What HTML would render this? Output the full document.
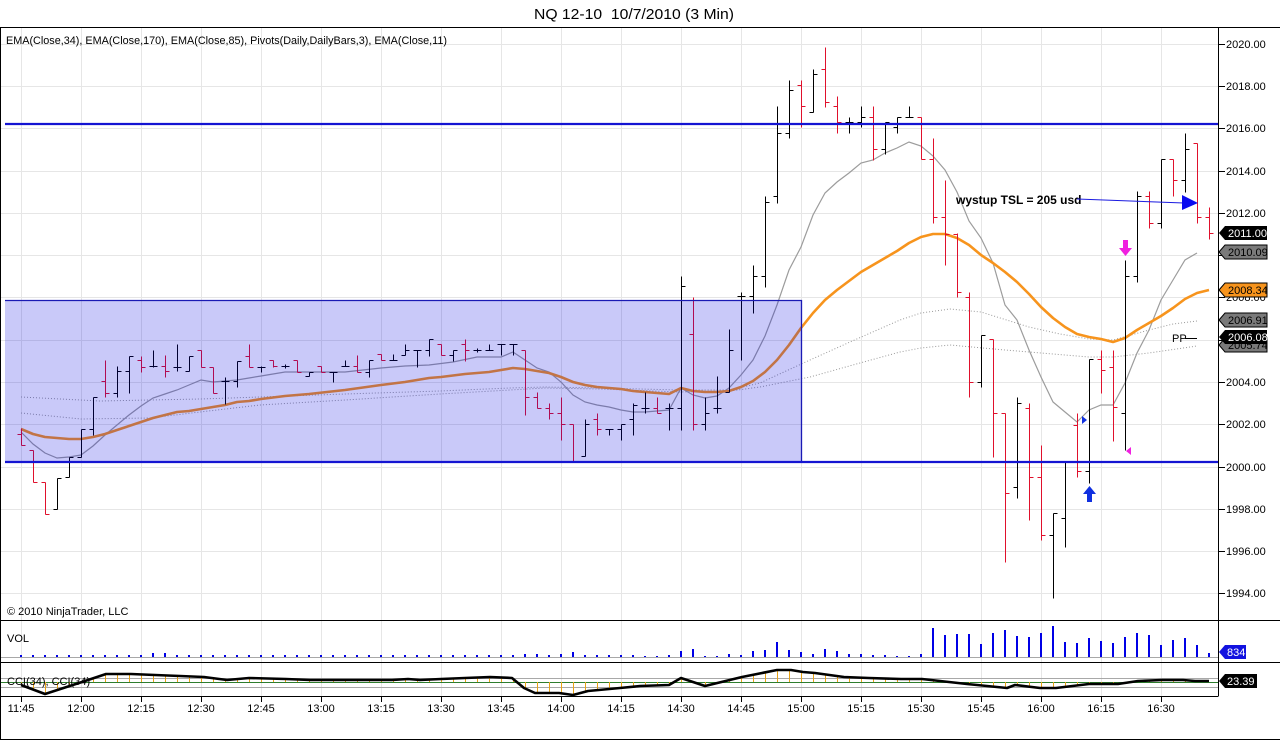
<!DOCTYPE html>
<html><head><meta charset="utf-8"><style>html,body{margin:0;padding:0;background:#fff;}svg{display:block;}</style></head>
<body>
<svg width="1280" height="740" viewBox="0 0 1280 740" xmlns="http://www.w3.org/2000/svg" font-family="'Liberation Sans', Arial, sans-serif">
<defs>
<clipPath id="mainclip"><rect x="1" y="28" width="1217" height="592"/></clipPath>
<clipPath id="cciclip"><polygon points="21,685 45,694 82,682 106,674 131,674 155,675 180,676 204,677 227,680 249,678 286,679 310,680 392,680 408,679 420,680 441,679 465,678 490,677 512,678 524,688 535,693 559,693 573,695 588,691 620,688 640,686 669,685 681,678 705,686 742,677 777,670 791,670 803,672 815,673 844,677 869,678 901,679 922,679 967,684 1007,688 1015,685 1040,688 1056,688 1089,684 1118,684 1138,681 1162,680 1183,680 1195,681 1209,681 1209,682 21,682"/></clipPath>
</defs>
<rect width="1280" height="740" fill="#fff"/>

<!-- grid -->
<g stroke="#e6e6e6" stroke-width="1" shape-rendering="crispEdges">
<path d="M21.5 28V696M81.5 28V696M141.5 28V696M201.5 28V696M261.5 28V696M321.5 28V696M381.5 28V696M441.5 28V696M501.5 28V696M561.5 28V696M621.5 28V696M681.5 28V696M741.5 28V696M801.5 28V696M861.5 28V696M921.5 28V696M981.5 28V696M1041.5 28V696M1101.5 28V696M1161.5 28V696"/>
<path d="M1 44.5H1218M1 86.5H1218M1 128.5H1218M1 171.5H1218M1 213.5H1218M1 255.5H1218M1 297.5H1218M1 340.5H1218M1 382.5H1218M1 424.5H1218M1 467.5H1218M1 509.5H1218M1 551.5H1218M1 593.5H1218"/>
</g>

<g clip-path="url(#mainclip)">
<!-- EMA dotted -->
<polyline fill="none" stroke="#9a9a9a" stroke-width="1" stroke-dasharray="1,2" points="21,397 100,401 200,399 260,397 345,394 440,391 510,388 545,387 600,388 680,390 730,390 760,383 810,360 850,342 900,320 921,313 950,309 981,312 1029,327 1060,334 1089,339 1113,340 1149,330 1173,324 1197,321"/>
<polyline fill="none" stroke="#9a9a9a" stroke-width="1" stroke-dasharray="1,2" points="21,413 81,419 150,418 200,412 260,405 345,400 440,394 510,390 545,388 600,389 680,392 730,391 760,387 810,377 860,363 900,352 921,348 950,345 1005,350 1089,357 1113,357 1149,353 1197,346"/>
<!-- EMA 11 -->
<polyline fill="none" stroke="#9c9c9c" stroke-width="1.2" points="21,432 33,444 45,453 57,458 69,457 81,455 93,446 105,435 117,425 129,415 141,406 153,398 165,394 177,390 189,385 201,380 213,382 225,381 237,380 249,378 261,376 285,372 309,372 345,372 381,368 405,366 429,365 453,362 477,357 501,357 513,352 525,360 537,368 549,372 561,382 573,395 585,402 597,405 609,407 621,410 633,412 645,412 657,411 669,410 681,388 693,395 705,398 717,396 729,388 741,375 753,360 765,336 777,305 789,270 801,247 813,215 825,193 837,182 849,173 861,163 873,160 885,153 897,148 909,142 921,146 933,156 945,170 957,192 969,221 981,238 993,263 1005,305 1017,320 1029,350 1041,377 1053,402 1065,412 1077,422 1089,410 1101,405 1113,405 1125,383 1137,353 1149,330 1161,300 1173,280 1185,260 1197,253"/>
<!-- EMA 34 -->
<polyline fill="none" stroke="#f7941d" stroke-width="2.6" stroke-linejoin="round" points="21,429 33,434 45,437 57,438 69,439 81,439 93,437 105,434 117,430 129,426 141,422 153,418 165,415 177,412 189,411 201,409 213,407 225,405 237,402 249,401 261,399 285,396 309,394 345,390 381,385 405,382 429,378 441,377 465,374 489,372 513,368 525,369 537,371 549,373 561,377 573,382 585,385 597,387 609,388 621,389 633,391 645,392 657,393 669,394 681,388 693,391 705,392 717,392 729,391 741,387 753,381 765,372 777,360 789,345 801,328 813,313 825,300 837,290 849,281 861,272 873,265 885,258 897,251 909,243 921,237 933,234 945,234 957,238 969,245 981,255 993,263 1005,272 1017,282 1029,294 1041,307 1053,318 1065,327 1077,334 1089,337 1101,339 1113,342 1125,338 1137,330 1149,323 1161,316 1173,308 1185,299 1197,293 1209,290"/>

<!-- bars -->
<g transform="translate(0.5,0.5)" fill="none" stroke-width="1" shape-rendering="crispEdges">
<path stroke="#e0102c" d="M21 428V445M17 434H21M21 445H25M33 450V482M29 450H33M33 482H37M45 482V514M41 482H45M45 514H49M105 360V397M101 381H105M105 393H109M141 356V372M137 360H141M141 367H145M165 355V377M161 366H165M165 371H169M201 350V367M197 350H201M201 367H205M213 367V393M209 367H213M213 393H217M249 344V367M245 356H249M249 367H253M273 360V367M269 360H273M273 366H277M297 360V372M293 360H297M297 372H301M321 366V372M317 366H321M321 372H325M357 355V372M353 366H357M357 372H361M381 354V360M377 354H381M381 360H385M441 344V355M437 344H441M441 355H445M465 339V361M461 344H465M465 350H469M525 350V415M521 350H525M525 397H529M537 392V408M533 397H537M537 408H541M549 403V419M545 408H549M549 413H553M561 397V440M557 413H561M561 424H565M573 424V462M569 424H573M573 462H577M597 413V435M593 419H597M597 429H601M657 397V413M653 408H657M657 413H661M693 297V430M689 334H693M693 424H697M801 80V127M797 85H801M801 106H805M825 47V107M821 69H825M825 102H829M837 96V133M833 106H837M837 122H841M873 106V160M869 117H873M873 149H877M921 117V159M917 117H921M921 159H925M933 138V223M929 159H933M933 217H937M945 180V265M941 217H945M945 234H949M957 233V297M953 234H957M957 292H961M969 292V397M965 297H969M969 382H973M993 339V457M989 339H993M993 413H997M1005 413V562M1001 413H1005M1005 493H1009M1029 403V520M1025 408H1029M1029 477H1033M1041 445V540M1037 477H1041M1041 535H1045M1077 413V477M1073 425H1077M1077 471H1081M1101 350V393M1097 359H1101M1101 370H1105M1113 350V441M1109 367H1113M1113 407H1117M1149 191V228M1145 196H1149M1149 223H1153M1173 159V196M1169 159H1173M1173 180H1177M1197 143V223M1193 143H1197M1197 217H1201M1209 207V239M1205 217H1209M1209 233H1213"/>
<path stroke="#000" d="M57 478V509M53 509H57M57 478H61M69 457V477M65 477H69M69 457H73M81 429V457M77 457H81M81 429H85M93 397V435M89 429H93M93 397H97M117 366V397M113 393H117M117 371H121M129 356V393M125 371H129M129 356H133M153 350V367M149 366H153M153 366H157M177 344V371M173 367H177M177 367H181M189 356V371M185 371H189M189 356H193M225 377V404M221 381H225M225 381H229M237 361V387M233 381H237M237 361H241M261 366V372M257 367H261M261 367H265M285 364V368M281 366H285M285 366H289M309 372V376M305 376H309M309 372H313M333 372V382M329 372H333M333 372H337M345 360V366M341 366H345M345 366H349M369 360V377M365 372H369M369 360H373M393 354V360M389 360H393M393 360H397M405 344V355M401 355H405M405 350H409M417 350V367M413 350H417M417 350H421M429 339V356M425 350H429M429 339H433M453 350V361M449 355H453M453 350H457M477 348V352M473 350H477M477 350H481M489 344V350M485 350H489M489 350H493M501 344V355M497 344H501M501 344H505M513 344V355M509 344H513M513 344H517M585 419V456M581 456H585M585 424H589M609 429V435M605 429H609M609 429H613M621 424V440M617 429H621M621 424H625M633 403V435M629 419H633M633 405H637M645 392V413M641 408H645M645 408H649M669 403V430M665 408H669M669 408H673M681 276V430M677 408H681M681 286H685M705 397V430M701 424H705M705 413H709M717 376V413M713 408H717M717 408H721M729 329V392M725 392H729M729 350H733M741 292V360M737 296H741M741 296H745M753 265V313M749 296H753M753 276H757M765 196V287M761 276H765M765 202H769M777 106V203M773 196H777M777 133H781M789 80V138M785 133H789M789 90H793M813 69V112M809 112H813M813 74H817M849 117V133M845 122H849M849 122H853M861 106V127M857 122H861M861 117H865M885 122V154M881 149H885M885 122H889M897 117V133M893 127H897M897 117H901M909 106V117M905 117H909M909 117H913M981 335V387M977 382H981M981 335H985M1017 397V498M1013 487H1017M1017 403H1021M1053 513V598M1049 535H1053M1053 513H1057M1065 461V547M1061 518H1065M1065 461H1069M1089 359V483M1085 471H1089M1089 359H1093M1125 260V450M1121 413H1125M1125 276H1129M1137 191V282M1133 276H1137M1137 196H1141M1161 159V228M1157 223H1161M1161 159H1165M1185 133V192M1181 180H1185M1185 149H1189"/>
</g>

<!-- translucent box -->
<rect x="5" y="300.5" width="796" height="161.5" fill="rgba(0,0,225,0.21)"/>
<path d="M5 300.5H801.5V462" fill="none" stroke="#1a1ab4" stroke-width="1.3"/>
<!-- horizontal lines -->
<path d="M5 124H1218M5 462H1218" stroke="#1414d2" stroke-width="2.2" fill="none"/>

<!-- annotation -->
<text x="956" y="204" font-size="12" font-weight="bold" fill="#000">wystup TSL = 205 usd</text>
<line x1="1077" y1="199" x2="1184" y2="203" stroke="#1a1ae0" stroke-width="1"/>
<polygon points="1182,195 1182,210 1198,203" fill="#0a0af0"/>
<!-- arrows -->
<path d="M1123 240h5v8h4l-6.5 8l-6.5-8h4z" fill="#f020e0"/>
<path d="M1087 502h5v-8h4l-6.5-8l-6.5 8h4z" fill="#1030e0"/>
<polygon points="1082,416 1082,424 1087,420" fill="#1030e0"/>
<polygon points="1131,447 1131,455 1126,451" fill="#f020e0"/>

<!-- PP -->
<text x="1172" y="342" font-size="11" fill="#000">PP</text>
<line x1="1185" y1="338.5" x2="1197" y2="338.5" stroke="#000" stroke-width="1"/>
</g>

<!-- frame -->
<g stroke="#000" stroke-width="1" fill="none" shape-rendering="crispEdges">
<path d="M0 27.5H1280M0.5 27V740M1218.5 27V696M0 620.5H1280M0 662.5H1280M0 696.5H1218.5M0 739.5H1280"/>
<path d="M1218 44.5h7M1218 86.5h7M1218 128.5h7M1218 171.5h7M1218 213.5h7M1218 255.5h7M1218 297.5h7M1218 340.5h7M1218 382.5h7M1218 424.5h7M1218 467.5h7M1218 509.5h7M1218 551.5h7M1218 593.5h7"/>
<path d="M21.5 696v6M81.5 696v6M141.5 696v6M201.5 696v6M261.5 696v6M321.5 696v6M381.5 696v6M441.5 696v6M501.5 696v6M561.5 696v6M621.5 696v6M681.5 696v6M741.5 696v6M801.5 696v6M861.5 696v6M921.5 696v6M981.5 696v6M1041.5 696v6M1101.5 696v6M1161.5 696v6"/>
</g>

<!-- price labels -->
<g font-size="11" fill="#000">
<text x="1226" y="48">2020.00</text>
<text x="1226" y="90">2018.00</text>
<text x="1226" y="132">2016.00</text>
<text x="1226" y="175">2014.00</text>
<text x="1226" y="217">2012.00</text>
<text x="1226" y="259">2010.00</text>
<text x="1226" y="301">2008.00</text>
<text x="1226" y="344">2006.00</text>
<text x="1226" y="386">2004.00</text>
<text x="1226" y="428">2002.00</text>
<text x="1226" y="471">2000.00</text>
<text x="1226" y="513">1998.00</text>
<text x="1226" y="555">1996.00</text>
<text x="1226" y="597">1994.00</text>
</g>

<!-- value boxes -->
<g font-size="11">
<polygon points="1219,345 1225,338 1267,338 1267,352 1225,352" fill="#7a7a7a" stroke="#000" stroke-width="1"/>
<text x="1228" y="349" fill="#000">2005.74</text>
<polygon points="1219,337 1225,330 1267,330 1267,344 1225,344" fill="#000"/>
<text x="1228" y="341" fill="#fff">2006.08</text>
<polygon points="1219,320 1225,313 1267,313 1267,327 1225,327" fill="#7a7a7a" stroke="#000" stroke-width="1"/>
<text x="1228" y="324" fill="#000">2006.91</text>
<polygon points="1219,290 1225,283 1267,283 1267,297 1225,297" fill="#f7941d" stroke="#000" stroke-width="1"/>
<text x="1228" y="294" fill="#000">2008.34</text>
<polygon points="1219,252 1225,245 1267,245 1267,259 1225,259" fill="#7a7a7a" stroke="#000" stroke-width="1"/>
<text x="1228" y="256" fill="#000">2010.09</text>
<polygon points="1219,233 1225,226 1267,226 1267,240 1225,240" fill="#000"/>
<text x="1228" y="237" fill="#fff">2011.00</text>
</g>

<!-- VOL panel -->
<line x1="1" y1="657.5" x2="1218" y2="657.5" stroke="#a8a8a8" stroke-width="1"/>
<path stroke="#0000e6" stroke-width="2" fill="none" d="M21 657V655M33 657V655M45 657V655M57 657V655M69 657V655M81 657V655M93 657V655M105 657V655M117 657V655M129 657V655M141 657V655M153 657V653M165 657V653M177 657V655M189 657V655M201 657V655M213 657V655M225 657V655M237 657V655M249 657V655M261 657V655M273 657V655M285 657V655M297 657V655M309 657V655M321 657V655M333 657V655M345 657V655M357 657V655M369 657V655M381 657V655M393 657V655M405 657V655M417 657V655M429 657V655M441 657V655M453 657V655M465 657V655M477 657V655M489 657V655M501 657V655M513 657V655M525 657V654M537 657V654M549 657V655M561 657V654M573 657V652M585 657V655M597 657V655M609 657V655M621 657V655M633 657V655M645 657V656M657 657V656M669 657V655M681 657V651M693 657V649M705 657V656M717 657V656M729 657V654M741 657V655M753 657V651M765 657V650M777 657V642M789 657V650M801 657V652M813 657V654M825 657V649M837 657V651M849 657V654M861 657V654M873 657V655M885 657V655M897 657V656M909 657V656M921 657V654M933 657V628M945 657V635M957 657V634M969 657V634M981 657V644M993 657V633M1005 657V630M1017 657V636M1029 657V637M1041 657V633M1053 657V626M1065 657V642M1077 657V643M1089 657V638M1101 657V641M1113 657V643M1125 657V637M1137 657V633M1149 657V635M1161 657V645M1173 657V640M1185 657V638M1197 657V645M1209 657V653"/>
<text x="7" y="642" font-size="11" fill="#000">VOL</text>
<polygon points="1219,652 1225,645 1246,645 1246,659 1225,659" fill="#1212e0"/>
<text x="1227" y="656" font-size="11" fill="#fff">834</text>

<!-- CCI panel -->
<path d="M1 678.5H1218M1 687.5H1218" stroke="#a8a8a8" stroke-width="1" fill="none"/>
<line x1="1" y1="682.5" x2="1218" y2="682.5" stroke="#2e7d2e" stroke-width="1"/>
<g clip-path="url(#cciclip)">
<path stroke="#e8a317" stroke-width="1" fill="none" d="M21.5 664V696M33.5 664V696M45.5 664V696M57.5 664V696M69.5 664V696M81.5 664V696M93.5 664V696M105.5 664V696M117.5 664V696M129.5 664V696M141.5 664V696M153.5 664V696M165.5 664V696M177.5 664V696M189.5 664V696M201.5 664V696M213.5 664V696M225.5 664V696M237.5 664V696M249.5 664V696M261.5 664V696M273.5 664V696M285.5 664V696M297.5 664V696M309.5 664V696M321.5 664V696M333.5 664V696M345.5 664V696M357.5 664V696M369.5 664V696M381.5 664V696M393.5 664V696M405.5 664V696M417.5 664V696M429.5 664V696M441.5 664V696M453.5 664V696M465.5 664V696M477.5 664V696M489.5 664V696M501.5 664V696M513.5 664V696M525.5 664V696M537.5 664V696M549.5 664V696M561.5 664V696M573.5 664V696M585.5 664V696M597.5 664V696M609.5 664V696M621.5 664V696M633.5 664V696M645.5 664V696M657.5 664V696M669.5 664V696M681.5 664V696M693.5 664V696M705.5 664V696M717.5 664V696M729.5 664V696M741.5 664V696M753.5 664V696M765.5 664V696M777.5 664V696M789.5 664V696M801.5 664V696M813.5 664V696M825.5 664V696M837.5 664V696M849.5 664V696M861.5 664V696M873.5 664V696M885.5 664V696M897.5 664V696M909.5 664V696M921.5 664V696M933.5 664V696M945.5 664V696M957.5 664V696M969.5 664V696M981.5 664V696M993.5 664V696M1005.5 664V696M1017.5 664V696M1029.5 664V696M1041.5 664V696M1053.5 664V696M1065.5 664V696M1077.5 664V696M1089.5 664V696M1101.5 664V696M1113.5 664V696M1125.5 664V696M1137.5 664V696M1149.5 664V696M1161.5 664V696M1173.5 664V696M1185.5 664V696M1197.5 664V696M1209.5 664V696"/>
</g>
<polyline fill="none" stroke="#000" stroke-width="2.6" stroke-linejoin="round" points="21,685 45,694 82,682 106,674 131,674 155,675 180,676 204,677 227,680 249,678 286,679 310,680 392,680 408,679 420,680 441,679 465,678 490,677 512,678 524,688 535,693 559,693 573,695 588,691 620,688 640,686 669,685 681,678 705,686 742,677 777,670 791,670 803,672 815,673 844,677 869,678 901,679 922,679 967,684 1007,688 1015,685 1040,688 1056,688 1089,684 1118,684 1138,681 1162,680 1183,680 1195,681 1209,681"/>
<text x="7" y="685" font-size="11" fill="#000">CCI(34), CCI(34)</text>
<polygon points="1219,681 1225,674 1257,674 1257,688 1225,688" fill="#000"/>
<text x="1227" y="685" font-size="11" fill="#fff">23.39</text>

<!-- time labels -->
<g font-size="11" fill="#000" text-anchor="middle">
<text x="21" y="712">11:45</text>
<text x="81" y="712">12:00</text>
<text x="141" y="712">12:15</text>
<text x="201" y="712">12:30</text>
<text x="261" y="712">12:45</text>
<text x="321" y="712">13:00</text>
<text x="381" y="712">13:15</text>
<text x="441" y="712">13:30</text>
<text x="501" y="712">13:45</text>
<text x="561" y="712">14:00</text>
<text x="621" y="712">14:15</text>
<text x="681" y="712">14:30</text>
<text x="741" y="712">14:45</text>
<text x="801" y="712">15:00</text>
<text x="861" y="712">15:15</text>
<text x="921" y="712">15:30</text>
<text x="981" y="712">15:45</text>
<text x="1041" y="712">16:00</text>
<text x="1101" y="712">16:15</text>
<text x="1161" y="712">16:30</text>
</g>

<!-- titles -->
<text x="534" y="19" font-size="15" fill="#000" textLength="200" lengthAdjust="spacingAndGlyphs">NQ 12-10&#160;&#160;10/7/2010 (3 Min)</text>
<text x="6" y="44" font-size="11" fill="#000" textLength="441" lengthAdjust="spacingAndGlyphs">EMA(Close,34), EMA(Close,170), EMA(Close,85), Pivots(Daily,DailyBars,3), EMA(Close,11)</text>
<text x="7" y="615" font-size="11" fill="#000">© 2010 NinjaTrader, LLC</text>
</svg>
</body></html>
